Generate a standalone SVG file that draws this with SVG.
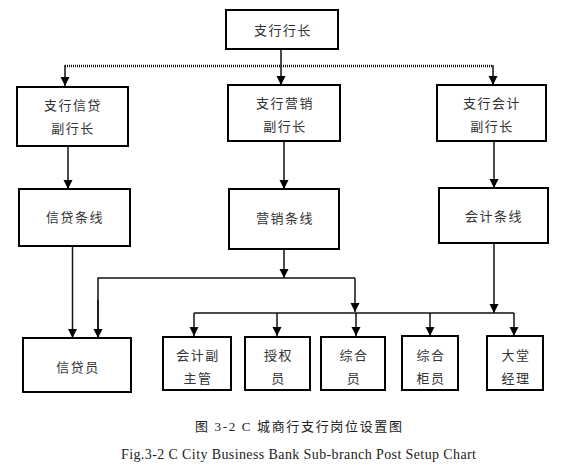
<svg xmlns="http://www.w3.org/2000/svg" width="576" height="467" viewBox="0 0 576 467">
<defs>
<marker id="arr" markerUnits="userSpaceOnUse" markerWidth="9" markerHeight="10" viewBox="0 0 10 10" refX="10" refY="5" orient="auto">
<path d="M0,0 L10,5 L0,10 z" fill="#000"/>
</marker>
</defs>
<style>
.box{fill:#fff;stroke:#000;stroke-width:2}
.t{font-family:"Noto Sans CJK SC","Noto Sans CJK JP",sans-serif;font-size:13px;fill:#333;text-anchor:middle;letter-spacing:1.5px}
.ln{fill:none;stroke:#111;stroke-width:1.5}
.dot{fill:none;stroke:#111;stroke-width:2.5;stroke-dasharray:1 1}
.cap{font-family:"Liberation Serif","Noto Sans CJK SC",serif;font-size:14px;fill:#222;text-anchor:middle}
</style>
<rect width="576" height="467" fill="#fff"/>
<g id="connectors">
<line class="ln" x1="281" y1="49" x2="281" y2="85" marker-end="url(#arr)"/>
<path class="dot" d="M65,66 H493"/>
<line class="ln" x1="65" y1="65" x2="65" y2="86" marker-end="url(#arr)"/>
<line class="ln" x1="493" y1="65" x2="493" y2="85" marker-end="url(#arr)"/>
<line class="ln" x1="68" y1="146" x2="68" y2="189" marker-end="url(#arr)"/>
<line class="ln" x1="284" y1="141" x2="284" y2="189" marker-end="url(#arr)"/>
<line class="ln" x1="494" y1="141" x2="494" y2="188" marker-end="url(#arr)"/>
<line class="ln" x1="72.5" y1="246" x2="72.5" y2="338" marker-end="url(#arr)"/>
<line class="ln" x1="284" y1="249" x2="284" y2="278" marker-end="url(#arr)"/>
<path class="ln" d="M98,338 V278 H355"/>
<line class="ln" x1="98" y1="300" x2="98" y2="338" marker-end="url(#arr)"/>
<line class="ln" x1="355" y1="278" x2="355" y2="312" marker-end="url(#arr)"/>
<line class="ln" x1="494" y1="243" x2="494" y2="313" marker-end="url(#arr)"/>
<path class="ln" d="M194,313 H514"/>
<line class="ln" x1="194" y1="313" x2="194" y2="336" marker-end="url(#arr)"/>
<line class="ln" x1="277" y1="313" x2="277" y2="336" marker-end="url(#arr)"/>
<line class="ln" x1="356" y1="313" x2="356" y2="336" marker-end="url(#arr)"/>
<line class="ln" x1="430" y1="313" x2="430" y2="336" marker-end="url(#arr)"/>
<line class="ln" x1="514" y1="313" x2="514" y2="336" marker-end="url(#arr)"/>
</g>
<g id="n-top"><rect class="box" x="226" y="10" width="112" height="39"/><text class="t" x="283" y="35">支行行长</text></g>
<g id="n-credit-vp"><rect class="box" x="17" y="87" width="111" height="59"/><text class="t" x="73" y="110">支行信贷</text><text class="t" x="73" y="133">副行长</text></g>
<g id="n-mkt-vp"><rect class="box" x="228" y="85" width="112" height="56"/><text class="t" x="285" y="108">支行营销</text><text class="t" x="285" y="131">副行长</text></g>
<g id="n-acc-vp"><rect class="box" x="437" y="85" width="109" height="56"/><text class="t" x="492" y="108">支行会计</text><text class="t" x="492" y="131">副行长</text></g>
<g id="n-credit-line"><rect class="box" x="19" y="189" width="111" height="57"/><text class="t" x="75" y="222">信贷条线</text></g>
<g id="n-mkt-line"><rect class="box" x="229" y="189" width="110" height="60"/><text class="t" x="285" y="223">营销条线</text></g>
<g id="n-acc-line"><rect class="box" x="439" y="188" width="109" height="55"/><text class="t" x="494" y="221">会计条线</text></g>
<g id="n-loan"><rect class="box" x="23" y="338" width="108" height="54"/><text class="t" x="78" y="372">信贷员</text></g>
<g id="n-acc-sup"><rect class="box" x="163" y="337" width="68" height="53"/><text class="t" x="198" y="360">会计副</text><text class="t" x="198" y="383">主管</text></g>
<g id="n-auth"><rect class="box" x="245" y="337" width="65" height="53"/><text class="t" x="278.5" y="360">授权</text><text class="t" x="278.5" y="383">员</text></g>
<g id="n-general"><rect class="box" x="321" y="337" width="64" height="53"/><text class="t" x="354" y="360">综合</text><text class="t" x="354" y="383">员</text></g>
<g id="n-teller"><rect class="box" x="402" y="336" width="56" height="54"/><text class="t" x="431" y="360">综合</text><text class="t" x="431" y="383">柜员</text></g>
<g id="n-lobby"><rect class="box" x="487" y="336" width="56" height="54"/><text class="t" x="516" y="360">大堂</text><text class="t" x="516" y="383">经理</text></g>
<text class="cap" x="298.5" y="431" textLength="207" lengthAdjust="spacing" style="font-size:13px">图 3-2  C 城商行支行岗位设置图</text>
<text class="cap" x="298.5" y="459" textLength="355" lengthAdjust="spacing">Fig.3-2 C City Business Bank Sub-branch Post Setup Chart</text>
</svg>
